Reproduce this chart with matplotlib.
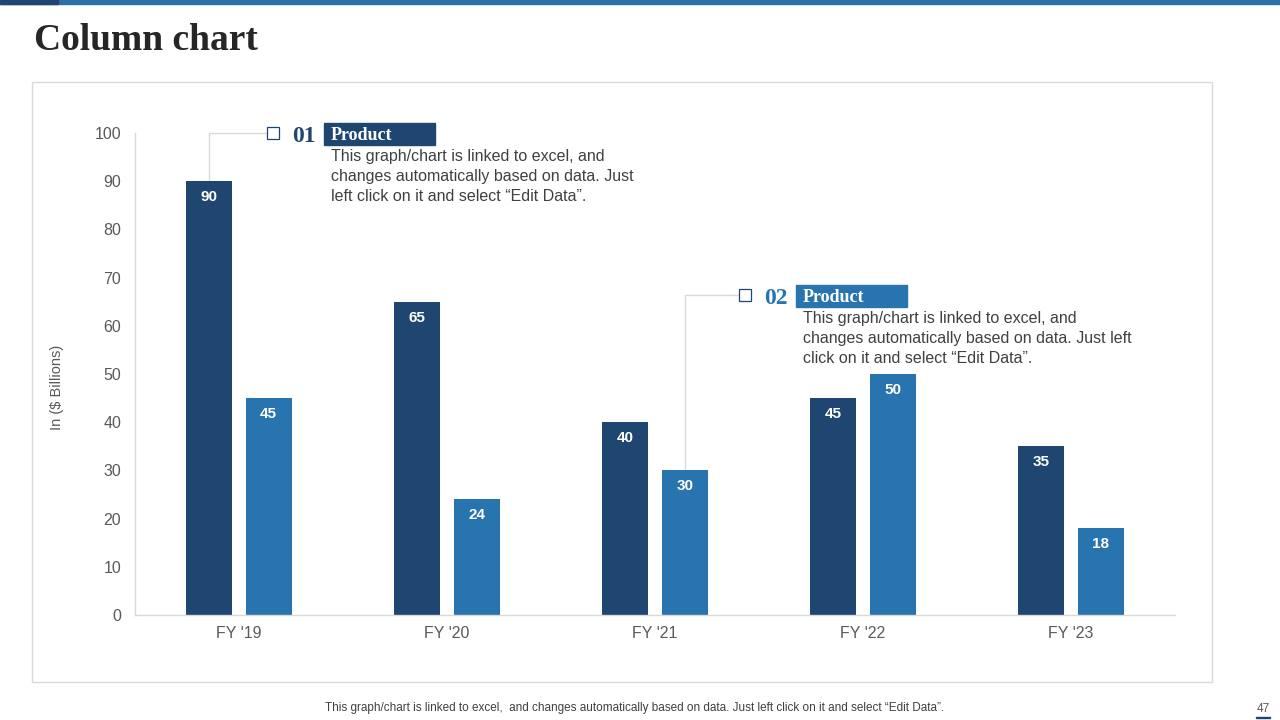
import matplotlib
matplotlib.use("Agg")
import matplotlib.pyplot as plt
from matplotlib.patches import Rectangle
import numpy as np

# ---- data ----
categories = ["FY '19", "FY '20", "FY '21", "FY '22", "FY '23"]
series_a = [90, 65, 40, 45, 35]
series_b = [45, 24, 30, 50, 18]
y_ticks = [0, 10, 20, 30, 40, 50, 60, 70, 80, 90, 100]
title = "Column chart"
y_label = "In ($ Billions)"
note_text = "This graph/chart is linked to excel, and\nchanges automatically based on data. Just\nleft click on it and select \u201cEdit Data\u201d."
note_text2 = "This graph/chart is linked to excel, and\nchanges automatically based on data. Just left\nclick on it and select \u201cEdit Data\u201d."
footer = "This graph/chart is linked to excel,  and changes automatically based on data. Just left click on it and select \u201cEdit Data\u201d."
page_no = "47"

DARK = "#1F4571"
LIGHT = "#2874AE"
TXT = "#404040"
GRID = "#D9D9D9"

W, H = 1280, 720
fig = plt.figure(figsize=(12.8, 7.2), dpi=100)

def fx(x):
    return x / W

def fy(y):
    return 1 - y / H

# top band
fig.patches.append(Rectangle((0, fy(4)), 1, 4 / H, transform=fig.transFigure,
                             color="#2C6FA6", zorder=0))
fig.patches.append(Rectangle((0, fy(4)), fx(58), 4 / H, transform=fig.transFigure,
                             color=DARK, zorder=1))
# frame
fig.patches.append(Rectangle((fx(32), fy(682)), fx(1212) - fx(32), fy(82) - fy(682),
                             transform=fig.transFigure, fill=False,
                             edgecolor=GRID, linewidth=1.0, zorder=0))

fig.text(fx(34), fy(41), title, fontsize=27, fontweight="bold",
         family="Liberation Serif", color="#262626", va="center", ha="left")

ax = fig.add_axes([fx(135), fy(615), fx(1175) - fx(135), fy(133) - fy(615)])
x = np.arange(len(categories))
bw = 0.222
off = 0.143
ba = ax.bar(x - off, series_a, bw, color=DARK, zorder=2)
bb = ax.bar(x + off, series_b, bw, color=LIGHT, zorder=2)

for bars, vals in ((ba, series_a), (bb, series_b)):
    for r, v in zip(bars, vals):
        ax.annotate(str(v), (r.get_x() + r.get_width() / 2, v), xytext=(0, -11.5),
                    textcoords="offset points", ha="center", va="center",
                    color="white", fontsize=11, fontweight="bold",
                    family="Liberation Sans", zorder=3)

ax.set_xlim(-0.5, len(categories) - 0.5)
ax.set_ylim(0, 100)
ax.set_yticks(y_ticks)
ax.set_xticks(x)
ax.set_xticklabels(categories)
ax.tick_params(length=0, labelsize=11.5, colors="#595959")
ax.tick_params(axis="x", pad=8)
ax.tick_params(axis="y", pad=10)
for lab in ax.get_xticklabels() + ax.get_yticklabels():
    lab.set_family("Liberation Sans")
for s in ("top", "right"):
    ax.spines[s].set_visible(False)
for s in ("left", "bottom"):
    ax.spines[s].set_color(GRID)
    ax.spines[s].set_linewidth(1.0)
fig.text(fx(57), fy(387), y_label, rotation=90, fontsize=10.5, color="#595959",
         family="Liberation Sans", ha="center", va="center")

# ---- callouts ----
def callout(bar_x, bar_top, corner_y, end_x, num, color, text, num_px, box_px, text_px):
    ax.plot([bar_x, bar_x, end_x], [bar_top, corner_y, corner_y], color=GRID,
            linewidth=1.0, clip_on=False, zorder=1)
    ax.plot([end_x + 0.025], [corner_y], marker="s", markersize=8,
            markerfacecolor="white", markeredgecolor=DARK, markeredgewidth=0.9,
            clip_on=False, zorder=3)
    nx, ny = num_px
    fig.text(fx(nx), fy(ny), num, fontsize=17, fontweight="bold",
             family="Liberation Serif", color=color, ha="left", va="center")
    x0, y0, x1, y1 = box_px
    fig.patches.append(Rectangle((fx(x0), fy(y1)), fx(x1) - fx(x0), fy(y0) - fy(y1),
                                 transform=fig.transFigure, color=color, zorder=2))
    fig.text(fx(x0 + 7), fy((y0 + y1) / 2 + 1), "Product", fontsize=13,
             fontweight="bold", family="Liberation Serif", color="white",
             ha="left", va="center", zorder=3)
    tx, ty = text_px
    fig.text(fx(tx), fy(ty), text, fontsize=11.5, family="Liberation Sans",
             color=TXT, ha="left", va="top", linespacing=1.4)

callout(0 - off, series_a[0], 100, 0.14, "01", DARK, note_text,
        (292, 136), (324, 123, 435, 145), (331, 149))
callout(2 + off, series_b[2], 66.4, 2.41, "02", LIGHT, note_text2,
        (764, 298), (796, 285, 907, 307), (803, 311))

fig.text(fx(325), fy(708), footer, fontsize=8.5, family="Liberation Sans",
         color=TXT, ha="left", va="center")
fig.text(fx(1263), fy(709), page_no, fontsize=8.5, family="Liberation Sans",
         color="#595959", ha="center", va="center")
fig.patches.append(Rectangle((fx(1256), fy(718)), fx(14), 1.5 / H,
                             transform=fig.transFigure, color=DARK))

fig.savefig("out.png", dpi=100)
